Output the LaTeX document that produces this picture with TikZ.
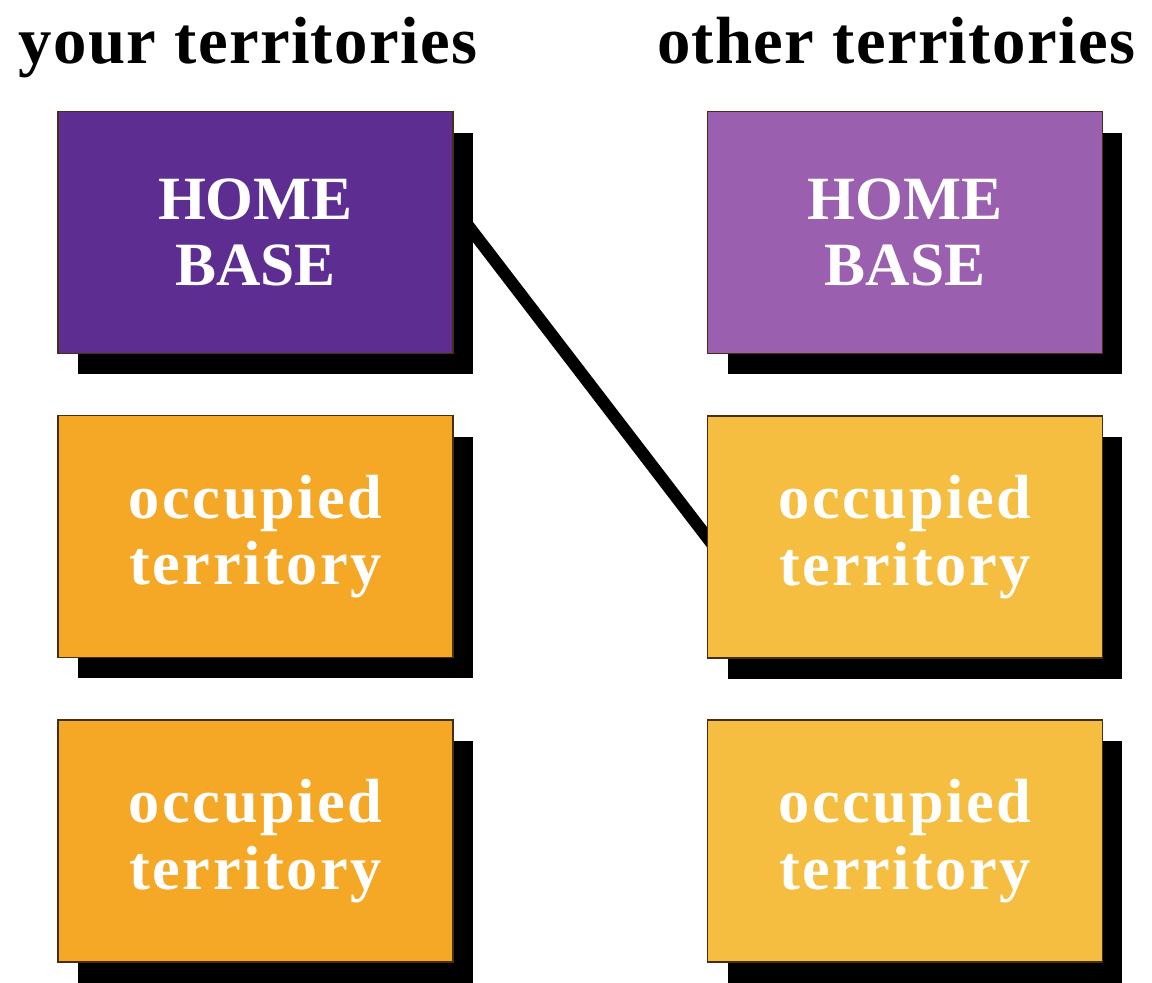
\documentclass[tikz,border=0pt]{standalone}
\usepackage{fontspec}
\setmainfont{Liberation Serif}
\usetikzlibrary{calc}
\pgfdeclarelayer{paper}
\pgfdeclarelayer{behind}
\pgfsetlayers{paper,behind,main}
\definecolor{deeppurple}{RGB}{94,45,145}
\definecolor{lightpurple}{RGB}{155,95,175}
\definecolor{deeporange}{RGB}{245,168,38}
\definecolor{lightorange}{RGB}{246,190,64}
\definecolor{edgebrown}{RGB}{70,45,20}
\begin{document}
\begin{tikzpicture}[x=0.02cm,y=-0.02cm,
  tbox/.style={draw=edgebrown, line width=0.8pt, minimum width=7.9cm, minimum height=4.84cm,
    inner sep=0pt, align=center, text=white,
    font=\fontsize{35}{38}\selectfont\bfseries},
  obox/.style={tbox, font=\fontsize{35.5}{38}\selectfont\bfseries\addfontfeatures{LetterSpace=4}},
  tshadow/.style={fill=black, minimum width=7.9cm, minimum height=4.84cm, inner sep=0pt},
  ttitle/.style={font=\fontsize{38}{44}\selectfont\bfseries\addfontfeatures{LetterSpace=2}, anchor=base, inner sep=0pt},
  link/.style={line width=7pt, shorten <=-12pt, shorten >=-12pt}]
\begin{pgfonlayer}{paper}
\useasboundingbox[fill=white] (0,0) rectangle (1152,980);
\end{pgfonlayer}
% titles
\node[ttitle] (t1) at (248,63) {your territories};
\node[ttitle] (t2) at (896,63) {other territories};
% boxes
\node[tbox, fill=deeppurple] (ha) at (255.5,232.5) {HOME\\BASE};
\node[obox, fill=deeporange] (oa2) at (255.5,536.5) {occupied\\territory};
\node[obox, fill=deeporange] (oa3) at (255.5,841) {occupied\\territory};
\node[tbox, fill=lightpurple] (hb) at (905,232.5) {HOME\\BASE};
\node[obox, fill=lightorange] (ob2) at (905,537) {occupied\\territory};
\node[obox, fill=lightorange] (ob3) at (905,841) {occupied\\territory};
% shadows and connector behind the boxes
\begin{pgfonlayer}{behind}
\foreach \n in {ha,oa2,oa3,hb,ob2,ob3}
  \node[tshadow] (s\n) at ($(\n.center)+(20,21)$) {};
\draw[link] (sha.east |- ha.east) -- (ob2.west);
\end{pgfonlayer}
\end{tikzpicture}
\end{document}
